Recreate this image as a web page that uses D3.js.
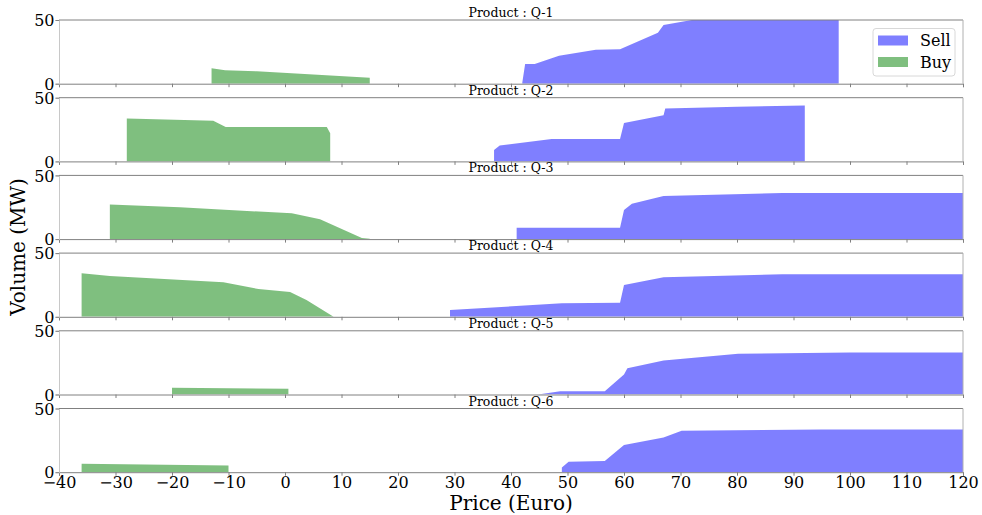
<!DOCTYPE html>
<html>
<head>
<meta charset="utf-8">
<script src="https://cdn.jsdelivr.net/npm/d3@7"></script>
<style>
  body { margin: 0; background: #fff; }
  svg text { font-family: "DejaVu Serif", serif; fill: #000; }
</style>
</head>
<body>
<svg id="chart" width="982" height="515"></svg>
<script>
// produits (un panneau par produit)
var products = ["Q-1", "Q-2", "Q-3", "Q-4", "Q-5", "Q-6"];

// courbes d'offre (Sell) : [prix, volume]
var sellQ1 = [[42, 1], [42.5, 15.5], [44.2, 15.5], [48.5, 22], [55, 26.7], [59.3, 27], [66, 40], [67, 46], [72, 50], [80, 54], [90, 57], [98, 58]];
var sellQ2 = [[37, 9], [38, 12.4], [47.2, 17.5], [59.3, 17.5], [60, 30.2], [67, 36.2], [67.3, 41.5], [80, 42.8], [92, 43.9]];
var sellQ3 = [[41, 8.9], [59.3, 8.9], [60, 22.8], [61.4, 27.7], [67, 33.8], [88, 36.1], [125, 36.1]];
var sellQ4 = [[29.2, 5.3], [49, 10.6], [59.3, 11], [60, 25], [67, 31], [88, 33.4], [125, 33.4]];
var sellQ5 = [[44.8, 0], [48.7, 2.6], [56.6, 2.6], [60, 15.7], [60.6, 20.6], [67, 26.7], [80.2, 31.9], [100, 33], [125, 33]];
var sellQ6 = [[49, 3.6], [50.2, 8.3], [56.6, 8.8], [60, 21.3], [67, 27.3], [70.2, 32.5], [95, 33.6], [125, 33.6]];

// courbes de demande (Buy) : [prix, volume]
var buyQ1 = [[-13, 12.2], [-10.6, 10.5], [-5, 9.8], [5, 7.3], [15, 4.6]];
var buyQ2 = [[-28, 33.6], [-12.7, 32], [-10.5, 27], [7.4, 27], [8, 22]];
var buyQ3 = [[-31, 27.2], [-18.6, 25], [1.2, 20.2], [6.2, 15.5], [13.6, 0.8], [15, 0.3]];
var buyQ4 = [[-36, 34.2], [-31, 32.1], [-10.9, 27.1], [-4.7, 21.8], [0.9, 19.5], [3.8, 13.2], [8.6, 0]];
var buyQ5 = [[-20, 5.3], [0.6, 4.6]];
var buyQ6 = [[-36, 6.7], [-10, 5.2]];

var sellData = [sellQ1, sellQ2, sellQ3, sellQ4, sellQ5, sellQ6];
var buyData = [buyQ1, buyQ2, buyQ3, buyQ4, buyQ5, buyQ6];

// graduations
var xTicks = [-40, -30, -20, -10, 0, 10, 20, 30, 40, 50, 60, 70, 80, 90, 100, 110, 120];
var yTicks = [0, 50];

var svg = d3.select("#chart");

var left = 59, right = 963;
var panelTop = 20, panelStep = 77.7, panelH = 63.7;

var x = d3.scaleLinear().domain([-40, 120]).range([left, right]);

products.forEach(function(p, i){
  var top = panelTop + i * panelStep;
  var y = d3.scaleLinear().domain([0, 50]).range([top + panelH, top]);
  var last = (i == products.length - 1);

  var g = svg.append("g");

  //clip pour couper ce qui dépasse 50 ou 120
  g.append("clipPath").attr("id", "clip" + i)
    .append("rect")
      .attr("x", left).attr("y", top)
      .attr("width", right - left).attr("height", panelH);

  var area = d3.area()
    .x(d => x(d[0]))
    .y0(y(0))
    .y1(d => y(d[1]));

  var plot = g.append("g").attr("clip-path", "url(#clip" + i + ")");
  plot.append("path")
    .datum(sellData[i])
    .attr("fill", "blue").attr("fill-opacity", 0.5)
    .attr("d", area);
  plot.append("path")
    .datum(buyData[i])
    .attr("fill", "green").attr("fill-opacity", 0.5)
    .attr("d", area);

  // axe x (ticks partout, labels seulement en bas)
  var xAxis = d3.axisBottom(x).tickValues(xTicks).tickSize(3.5).tickPadding(1)
    .tickFormat(d => (d < 0 ? "\u2212" + Math.abs(d) : "" + d));
  var gx = g.append("g")
    .attr("transform", "translate(0," + (top + panelH) + ")")
    .call(xAxis);
  gx.select(".domain").attr("stroke", "#808080");
  gx.selectAll(".tick line").attr("stroke", "#808080");
  if (last) {
    gx.selectAll(".tick text").attr("font-size", 16);
  } else {
    gx.selectAll(".tick text").remove();
  }

  // axe y
  var yAxis = d3.axisLeft(y).tickValues(yTicks).tickSize(3.5).tickPadding(1);
  var gy = g.append("g")
    .attr("transform", "translate(" + left + ",0)")
    .call(yAxis);
  gy.select(".domain").attr("stroke", "#c8c8c8");
  gy.selectAll(".tick line").attr("stroke", "#808080");
  gy.selectAll(".tick text").attr("font-size", 16).attr("dy", "0.35em");

  // bords haut et droit
  g.append("line")
    .attr("x1", left).attr("x2", right).attr("y1", top).attr("y2", top)
    .attr("stroke", "#808080");
  g.append("line")
    .attr("x1", right).attr("x2", right).attr("y1", top).attr("y2", top + panelH)
    .attr("stroke", "#b0b0b0");

  // titre
  g.append("text")
    .attr("x", (left + right) / 2).attr("y", top - 3)
    .attr("text-anchor", "middle")
    .attr("font-size", 12.5)
    .text("Product : " + p);
});

// légende
var legend = svg.append("g");
legend.append("rect")
  .attr("x", 873).attr("y", 28.5).attr("width", 82).attr("height", 47.5)
  .attr("rx", 3).attr("fill", "#fff").attr("fill-opacity", 0.8)
  .attr("stroke", "#d8d8d8");
var legendItems = [["Sell", "blue"], ["Buy", "green"]];
legendItems.forEach(function(it, k){
  var ly = 40 + k * 21.5;
  legend.append("rect")
    .attr("x", 878).attr("y", ly - 4.5).attr("width", 30).attr("height", 10)
    .attr("fill", it[1]).attr("fill-opacity", 0.5);
  legend.append("text")
    .attr("x", 920).attr("y", ly + 6)
    .attr("font-size", 16)
    .text(it[0]);
});

// titres des axes
svg.append("text")
  .attr("x", (left + right) / 2).attr("y", 510)
  .attr("text-anchor", "middle").attr("font-size", 20)
  .text("Price (Euro)");
svg.append("text")
  .attr("transform", "translate(25,247) rotate(-90)")
  .attr("text-anchor", "middle").attr("font-size", 20)
  .text("Volume (MW)");
</script>
</body>
</html>
